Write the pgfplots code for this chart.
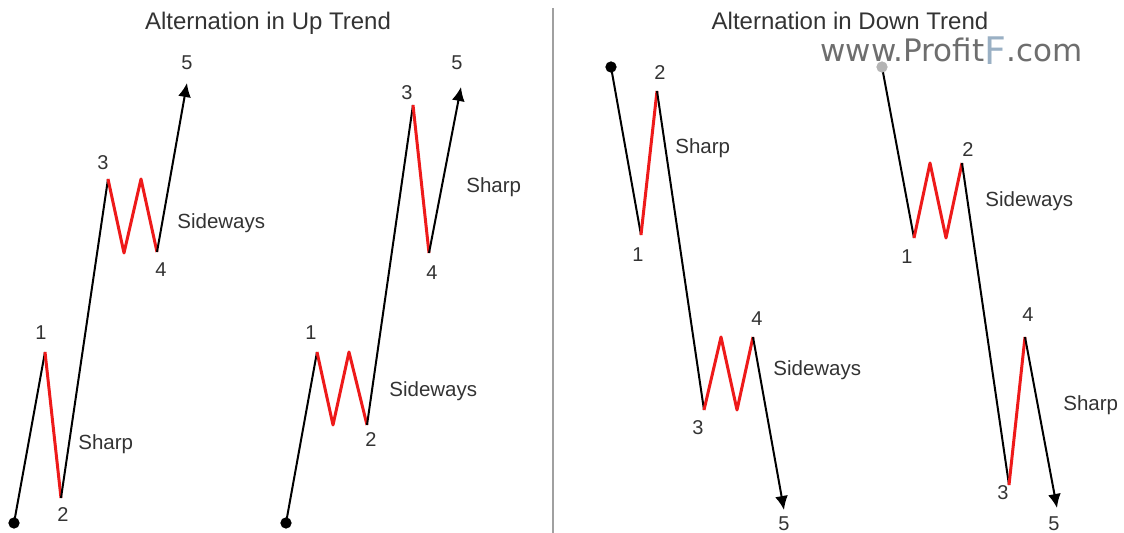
\documentclass[border=0pt]{standalone}
\usepackage{fontspec}
\setmainfont{Liberation Sans}
\newfontfamily\wmfont{DejaVu Sans}
\usepackage{pgfplots}
\pgfplotsset{compat=1.18}
\usetikzlibrary{arrows.meta}

\definecolor{waveRed}{HTML}{EE1A1A}
\definecolor{txt}{HTML}{333333}
\definecolor{wm}{HTML}{6E6E6E}
\definecolor{wmF}{HTML}{9AB0C4}
\definecolor{dotGrey}{HTML}{B4B4B4}
\definecolor{divider}{HTML}{A0A0A0}

% 1 px of the picture = 0.5pt
\tikzset{
  num/.style={font=\fontsize{10}{12}\selectfont, text=txt, inner sep=0pt},
  lbl/.style={font=\fontsize{10.25}{12}\selectfont, text=txt, inner sep=0pt, anchor=base west},
  ttl/.style={font=\fontsize{12}{14}\selectfont, text=txt, inner sep=0pt, anchor=base},
}

\begin{document}
\begin{tikzpicture}
\path[use as bounding box] (0,0) rectangle (562pt,266.5pt);
\begin{axis}[
  width=562pt, height=266.5pt, scale only axis,
  xmin=0, xmax=1124, ymin=0, ymax=533, y dir=reverse,
  hide axis, clip=false,
  blk/.style={black, line width=1pt, no marks},
  rd/.style={waveRed, line width=1.5pt, line join=round, no marks},
  arr/.style={black, line width=1pt, no marks, -{Latex[length=7pt,width=6.5pt]}},
]
% divider
\addplot[divider, line width=0.75pt, no marks] coordinates {(553,8) (553,533)};

% --- up trend, sharp then sideways
\addplot[blk] coordinates {(14,523) (45,352)};
\addplot[rd]  coordinates {(45,352) (61,498)};
\addplot[blk] coordinates {(61,498) (108,179)};
\addplot[rd]  coordinates {(108,179) (124,253) (141,179) (157,252)};
\addplot[arr] coordinates {(157,252) (187,83)};

% --- up trend, sideways then sharp
\addplot[blk] coordinates {(286,523) (317,352)};
\addplot[rd]  coordinates {(317,352) (333,425) (349,352) (367,425)};
\addplot[blk] coordinates {(367,425) (413,105)};
\addplot[rd]  coordinates {(413,105) (429,253)};
\addplot[arr] coordinates {(429,253) (461,87)};

% --- down trend, sharp then sideways
\addplot[blk] coordinates {(611,67) (641,235)};
\addplot[rd]  coordinates {(641,235) (657,91)};
\addplot[blk] coordinates {(657,91) (704,410)};
\addplot[rd]  coordinates {(704,410) (721,337) (737,410) (753,337)};
\addplot[arr] coordinates {(753,337) (784,510)};

% --- down trend, sideways then sharp
\addplot[blk] coordinates {(882,67) (914,238)};
\addplot[rd]  coordinates {(914,238) (930,163) (946,238) (962,163)};
\addplot[blk] coordinates {(962,163) (1009,485)};
\addplot[rd]  coordinates {(1009,485) (1025,337)};
\addplot[arr] coordinates {(1025,337) (1057,508)};

% start points
\addplot[only marks, mark=*, mark size=2.6pt, black] coordinates {(14,523) (286,523) (611,67)};
\addplot[only marks, mark=*, mark size=2.6pt, dotGrey, mark options={draw=dotGrey}] coordinates {(882,67)};

% titles and watermark
\node[ttl] at (268,30) {Alternation in Up Trend};
\node[ttl] at (850,30) {Alternation in Down Trend};
\node[anchor=base west, inner sep=0pt, text=wm, font=\wmfont\fontsize{15.5}{18}\selectfont]
  at (820,62) {www.Profit\raisebox{-1.5pt}{\fontsize{19}{20}\selectfont\color{wmF}F}.com};

% wave numbers
\node[num] at (41,333) {1};
\node[num] at (63,515) {2};
\node[num] at (103,163) {3};
\node[num] at (161,270) {4};
\node[num] at (187,63) {5};
\node[num] at (311,333) {1};
\node[num] at (371,440) {2};
\node[num] at (407,93) {3};
\node[num] at (432,273) {4};
\node[num] at (457,63) {5};
\node[num] at (638,255) {1};
\node[num] at (660,73) {2};
\node[num] at (698,428) {3};
\node[num] at (757,319) {4};
\node[num] at (784,524) {5};
\node[num] at (907,257) {1};
\node[num] at (968,150) {2};
\node[num] at (1003,493) {3};
\node[num] at (1028,315) {4};
\node[num] at (1054,524) {5};

% correction labels
\node[lbl] at (78,450) {Sharp};
\node[lbl] at (177,229) {Sideways};
\node[lbl] at (466,193) {Sharp};
\node[lbl] at (389,397) {Sideways};
\node[lbl] at (675,154) {Sharp};
\node[lbl] at (773,376) {Sideways};
\node[lbl] at (985,207) {Sideways};
\node[lbl] at (1063,411) {Sharp};
\end{axis}
\end{tikzpicture}
\end{document}
